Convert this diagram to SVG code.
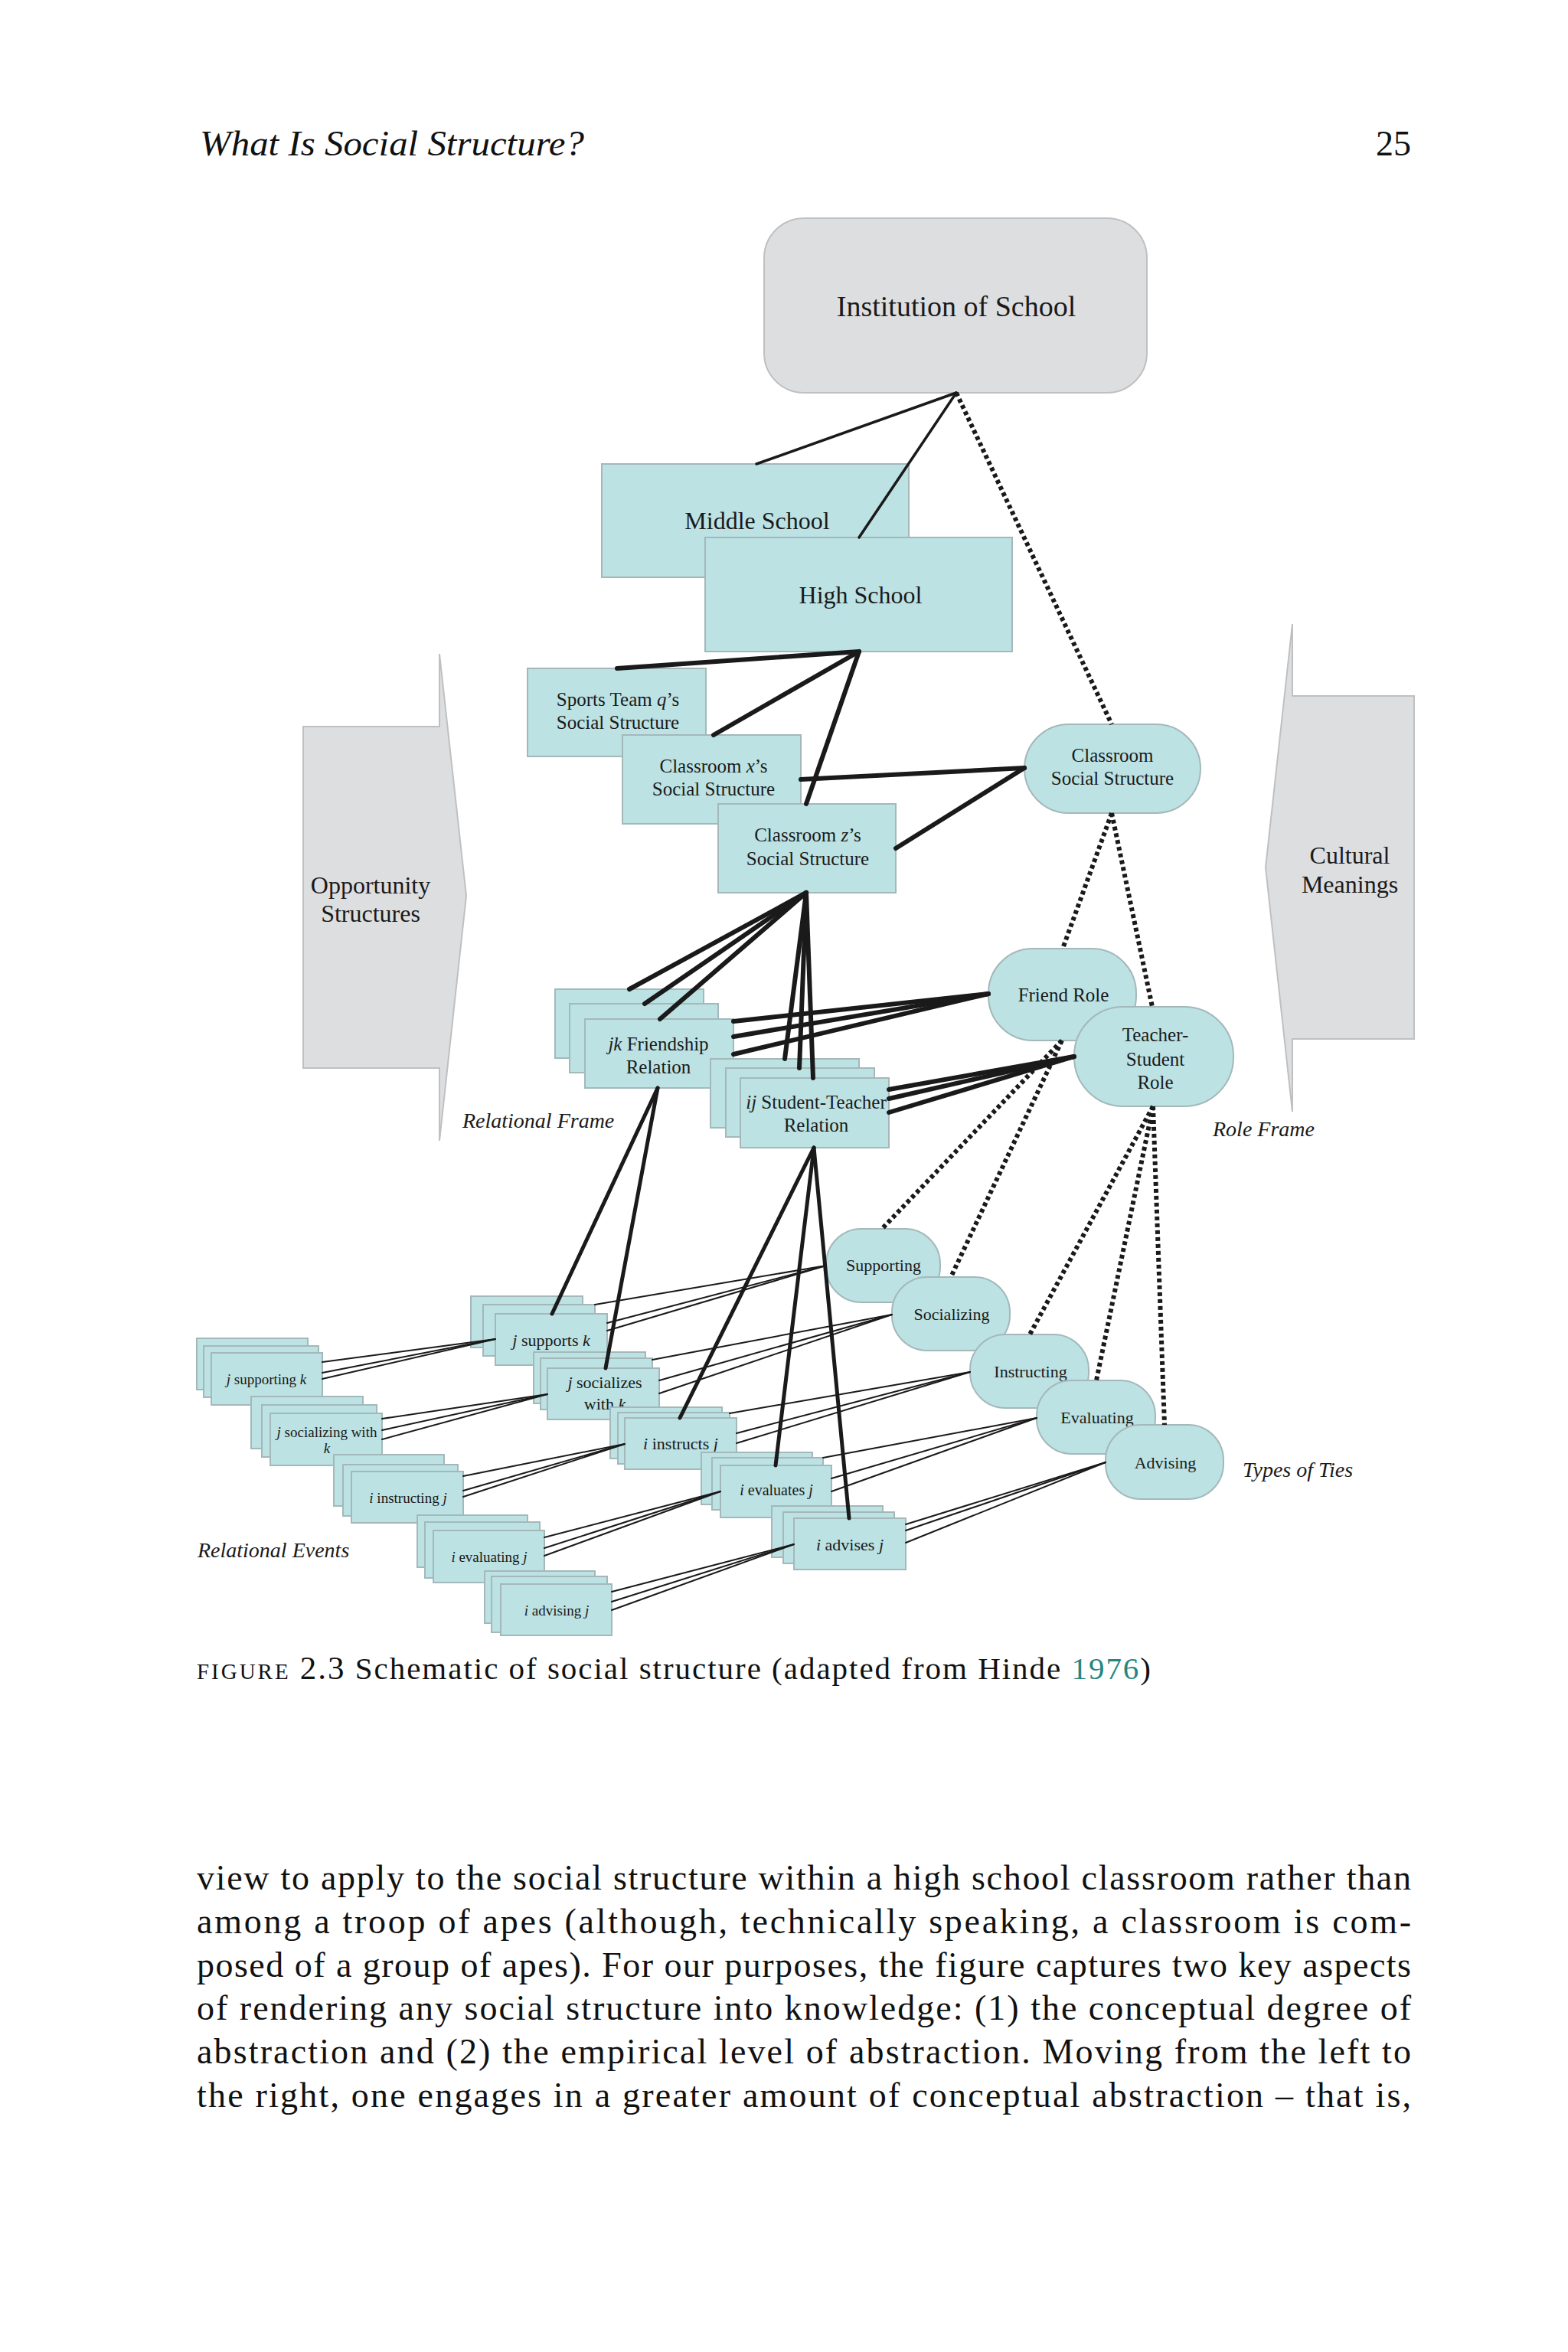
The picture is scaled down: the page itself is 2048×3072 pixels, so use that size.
<svg xmlns="http://www.w3.org/2000/svg" width="2048" height="3072" viewBox="0 0 2048 3072">
<style>
.bg{fill:#ffffff}
.box{fill:#bce2e4;stroke:#a4b8ba;stroke-width:2}
.gray{fill:#dddee0;stroke:#bfc0c2;stroke-width:2}
.t{font-family:"Liberation Serif","Times New Roman",serif;fill:#1a1a1a;text-anchor:middle}
.it{font-style:italic}
.lab{font-family:"Liberation Serif","Times New Roman",serif;fill:#1a1a1a;font-style:italic;font-size:28px}
.body{font-family:"Liberation Serif","Times New Roman",serif;fill:#111;font-size:46px}
.c{stroke:#1a1a1a;fill:none;stroke-linecap:round}
.w6{stroke-width:6}
.w5{stroke-width:5}
.w35{stroke-width:3.5}
.w2{stroke-width:2}
.dot{stroke:#1a1a1a;fill:none;stroke-width:6;stroke-dasharray:5 4}
</style>
<rect class="bg" x="0" y="0" width="2048" height="3072"/>

<!-- page header -->
<text x="261" y="203" font-family="Liberation Serif, serif" font-style="italic" font-size="46" fill="#111" textLength="502" lengthAdjust="spacingAndGlyphs">What Is Social Structure?</text>
<text x="1843" y="203" font-family="Liberation Serif, serif" font-size="46" fill="#111" text-anchor="end">25</text>

<!-- side arrows -->
<g id="opportunity">
<polygon class="gray" points="396,949 574,949 574,854 609,1170 574,1490 574,1395 396,1395"/>
<text class="t" x="484" y="1167" font-size="32">Opportunity</text>
<text class="t" x="484" y="1204" font-size="32">Structures</text>
</g>
<g id="cultural">
<polygon class="gray" points="1847,909 1688,909 1688,815 1653,1133 1688,1452 1688,1357 1847,1357"/>
<text class="t" x="1763" y="1128" font-size="32">Cultural</text>
<text class="t" x="1763" y="1166" font-size="32">Meanings</text>
</g>

<!-- nodes -->
<g id="institution">
<rect class="gray" x="998" y="285" width="500" height="228" rx="52"/>
<text class="t" x="1249" y="413" font-size="38">Institution of School</text>
</g>
<g id="middle-school">
<rect class="box" x="786" y="606" width="401" height="148"/>
<text class="t" x="989" y="691" font-size="32">Middle School</text>
</g>
<g id="high-school">
<rect class="box" x="921" y="702" width="401" height="149"/>
<text class="t" x="1124" y="788" font-size="32">High School</text>
</g>
<g id="sports-team">
<rect class="box" x="689" y="873" width="233" height="115"/>
<text class="t" x="807" y="922" font-size="25">Sports Team <tspan class="it">q</tspan>’s</text>
<text class="t" x="807" y="952" font-size="25">Social Structure</text>
</g>
<g id="classroom-x">
<rect class="box" x="813" y="960" width="233" height="116"/>
<text class="t" x="932" y="1009" font-size="25">Classroom <tspan class="it">x</tspan>’s</text>
<text class="t" x="932" y="1039" font-size="25">Social Structure</text>
</g>
<g id="classroom-z">
<rect class="box" x="938" y="1050" width="232" height="116"/>
<text class="t" x="1055" y="1099" font-size="25">Classroom <tspan class="it">z</tspan>’s</text>
<text class="t" x="1055" y="1130" font-size="25">Social Structure</text>
</g>
<g id="classroom-social-structure">
<rect class="box" x="1338" y="946" width="230" height="116" rx="58"/>
<text class="t" x="1453" y="995" font-size="25">Classroom</text>
<text class="t" x="1453" y="1025" font-size="25">Social Structure</text>
</g>
<g id="jk-friendship">
<rect class="box" x="725" y="1292" width="194" height="90"/>
<rect class="box" x="744" y="1311" width="194" height="90"/>
<rect class="box" x="764" y="1331" width="194" height="90"/>
<text class="t" x="860" y="1372" font-size="25"><tspan class="it">jk</tspan> Friendship</text>
<text class="t" x="860" y="1402" font-size="25">Relation</text>
</g>
<g id="ij-student-teacher">
<rect class="box" x="928" y="1383" width="194" height="90"/>
<rect class="box" x="948" y="1395" width="194" height="90"/>
<rect class="box" x="967" y="1408" width="194" height="91"/>
<text class="t" x="1066" y="1448" font-size="25"><tspan class="it">ij</tspan> Student-Teacher</text>
<text class="t" x="1066" y="1478" font-size="25">Relation</text>
</g>
<g id="friend-role">
<rect class="box" x="1291" y="1239" width="193" height="120" rx="58"/>
<text class="t" x="1389" y="1308" font-size="25">Friend Role</text>
</g>
<g id="teacher-student-role">
<rect class="box" x="1403" y="1315" width="208" height="130" rx="64"/>
<text class="t" x="1509" y="1360" font-size="25">Teacher-</text>
<text class="t" x="1509" y="1392" font-size="25">Student</text>
<text class="t" x="1509" y="1422" font-size="25">Role</text>
</g>
<g id="supporting">
<rect class="box" x="1079" y="1605" width="149" height="96" rx="46"/>
<text class="t" x="1154" y="1660" font-size="22">Supporting</text>
</g>
<g id="socializing">
<rect class="box" x="1165" y="1668" width="154" height="96" rx="46"/>
<text class="t" x="1243" y="1724" font-size="22">Socializing</text>
</g>
<g id="instructing">
<rect class="box" x="1267" y="1743" width="155" height="96" rx="46"/>
<text class="t" x="1346" y="1799" font-size="22">Instructing</text>
</g>
<g id="evaluating">
<rect class="box" x="1354" y="1803" width="155" height="96" rx="46"/>
<text class="t" x="1433" y="1859" font-size="22">Evaluating</text>
</g>
<g id="advising">
<rect class="box" x="1444" y="1861" width="154" height="97" rx="46"/>
<text class="t" x="1522" y="1918" font-size="22">Advising</text>
</g>

<!-- relational events: middle column -->
<g id="j-supports-k">
<rect class="box" x="615" y="1693" width="146" height="67"/>
<rect class="box" x="631" y="1704" width="146" height="67"/>
<rect class="box" x="647" y="1716" width="146" height="67"/>
<text class="t" x="720" y="1758" font-size="22"><tspan class="it">j</tspan> supports <tspan class="it">k</tspan></text>
</g>
<g id="j-socializes-with-k">
<rect class="box" x="697" y="1766" width="146" height="67"/>
<rect class="box" x="706" y="1774" width="146" height="67"/>
<rect class="box" x="715" y="1787" width="146" height="67"/>
<text class="t" x="790" y="1813" font-size="22"><tspan class="it">j</tspan> socializes</text>
<text class="t" x="790" y="1841" font-size="22">with <tspan class="it">k</tspan></text>
</g>
<g id="i-instructs-j">
<rect class="box" x="797" y="1838" width="146" height="67"/>
<rect class="box" x="807" y="1845" width="146" height="67"/>
<rect class="box" x="816" y="1852" width="146" height="67"/>
<text class="t" x="889" y="1893" font-size="22"><tspan class="it">i</tspan> instructs <tspan class="it">j</tspan></text>
</g>
<g id="i-evaluates-j">
<rect class="box" x="916" y="1897" width="145" height="68"/>
<rect class="box" x="930" y="1904" width="145" height="68"/>
<rect class="box" x="941" y="1914" width="145" height="68"/>
<text class="t" x="1014" y="1953" font-size="20"><tspan class="it">i</tspan> evaluates <tspan class="it">j</tspan></text>
</g>
<g id="i-advises-j">
<rect class="box" x="1008" y="1967" width="145" height="67"/>
<rect class="box" x="1023" y="1975" width="145" height="67"/>
<rect class="box" x="1037" y="1983" width="146" height="67"/>
<text class="t" x="1110" y="2025" font-size="22"><tspan class="it">i</tspan> advises <tspan class="it">j</tspan></text>
</g>

<!-- relational events: left column -->
<g id="j-supporting-k">
<rect class="box" x="257" y="1748" width="145" height="67"/>
<rect class="box" x="266" y="1758" width="150" height="67"/>
<rect class="box" x="276" y="1767" width="145" height="68"/>
<text class="t" x="348" y="1808" font-size="19"><tspan class="it">j</tspan> supporting <tspan class="it">k</tspan></text>
</g>
<g id="j-socializing-with-k">
<rect class="box" x="328" y="1824" width="146" height="68"/>
<rect class="box" x="342" y="1835" width="150" height="68"/>
<rect class="box" x="353" y="1846" width="146" height="68"/>
<text class="t" x="427" y="1877" font-size="19"><tspan class="it">j</tspan> socializing with</text>
<text class="t" x="427" y="1898" font-size="19" font-style="italic">k</text>
</g>
<g id="i-instructing-j">
<rect class="box" x="436" y="1900" width="144" height="67"/>
<rect class="box" x="448" y="1913" width="150" height="67"/>
<rect class="box" x="459" y="1922" width="146" height="67"/>
<text class="t" x="533" y="1963" font-size="19"><tspan class="it">i</tspan> instructing <tspan class="it">j</tspan></text>
</g>
<g id="i-evaluating-j">
<rect class="box" x="545" y="1979" width="144" height="68"/>
<rect class="box" x="555" y="1988" width="150" height="73"/>
<rect class="box" x="566" y="1999" width="145" height="68"/>
<text class="t" x="639" y="2040" font-size="19"><tspan class="it">i</tspan> evaluating <tspan class="it">j</tspan></text>
</g>
<g id="i-advising-j">
<rect class="box" x="633" y="2052" width="144" height="68"/>
<rect class="box" x="642" y="2059" width="151" height="73"/>
<rect class="box" x="654" y="2069" width="145" height="67"/>
<text class="t" x="727" y="2110" font-size="19"><tspan class="it">i</tspan> advising <tspan class="it">j</tspan></text>
</g>

<!-- connectors -->
<g id="connectors">
<line class="c w35" x1="1249" y1="513" x2="988" y2="606"/>
<line class="c w35" x1="1249" y1="513" x2="1122" y2="702"/>
<line class="dot" x1="1249" y1="513" x2="1452" y2="946"/>
<line class="c w6" x1="1122" y1="851" x2="806" y2="873"/>
<line class="c w6" x1="1122" y1="851" x2="932" y2="960"/>
<line class="c w6" x1="1122" y1="851" x2="1053" y2="1050"/>
<line class="c w6" x1="1046" y1="1018" x2="1338" y2="1003"/>
<line class="c w6" x1="1170" y1="1108" x2="1338" y2="1003"/>
<line class="c w6" x1="1053" y1="1166" x2="822" y2="1292"/>
<line class="c w6" x1="1053" y1="1166" x2="842" y2="1311"/>
<line class="c w6" x1="1053" y1="1166" x2="862" y2="1331"/>
<line class="c w6" x1="1053" y1="1166" x2="1025" y2="1383"/>
<line class="c w6" x1="1053" y1="1166" x2="1044" y2="1395"/>
<line class="c w6" x1="1053" y1="1166" x2="1062" y2="1408"/>
<line class="c w6" x1="958" y1="1334" x2="1291" y2="1298"/>
<line class="c w6" x1="958" y1="1354" x2="1291" y2="1298"/>
<line class="c w6" x1="958" y1="1377" x2="1291" y2="1298"/>
<line class="c w6" x1="1161" y1="1423" x2="1403" y2="1380"/>
<line class="c w6" x1="1161" y1="1435" x2="1403" y2="1380"/>
<line class="c w6" x1="1161" y1="1453" x2="1403" y2="1380"/>
<line class="dot" x1="1452" y1="1062" x2="1388" y2="1239"/>
<line class="dot" x1="1452" y1="1062" x2="1505" y2="1315"/>
<line class="dot" x1="1387" y1="1359" x2="1152" y2="1605"/>
<line class="dot" x1="1387" y1="1359" x2="1242" y2="1668"/>
<line class="dot" x1="1506" y1="1445" x2="1345" y2="1743"/>
<line class="dot" x1="1506" y1="1445" x2="1432" y2="1803"/>
<line class="dot" x1="1506" y1="1445" x2="1521" y2="1861"/>
<line class="c w5" x1="859" y1="1421" x2="721" y2="1716"/>
<line class="c w5" x1="859" y1="1421" x2="791" y2="1787"/>
<line class="c w5" x1="1063" y1="1499" x2="888" y2="1852"/>
<line class="c w5" x1="1063" y1="1499" x2="1013" y2="1914"/>
<line class="c w5" x1="1063" y1="1499" x2="1109" y2="1983"/>
<line class="c w2" x1="777" y1="1704" x2="1079" y2="1653"/>
<line class="c w2" x1="793" y1="1728" x2="1079" y2="1653"/>
<line class="c w2" x1="793" y1="1738" x2="1079" y2="1653"/>
<line class="c w2" x1="852" y1="1776" x2="1165" y2="1717"/>
<line class="c w2" x1="861" y1="1803" x2="1165" y2="1717"/>
<line class="c w2" x1="861" y1="1820" x2="1165" y2="1717"/>
<line class="c w2" x1="953" y1="1846" x2="1267" y2="1792"/>
<line class="c w2" x1="962" y1="1872" x2="1267" y2="1792"/>
<line class="c w2" x1="962" y1="1885" x2="1267" y2="1792"/>
<line class="c w2" x1="1075" y1="1904" x2="1354" y2="1852"/>
<line class="c w2" x1="1086" y1="1931" x2="1354" y2="1852"/>
<line class="c w2" x1="1086" y1="1948" x2="1354" y2="1852"/>
<line class="c w2" x1="1183" y1="1991" x2="1444" y2="1910"/>
<line class="c w2" x1="1183" y1="1999" x2="1444" y2="1910"/>
<line class="c w2" x1="1183" y1="2015" x2="1444" y2="1910"/>
<line class="c w2" x1="421" y1="1779" x2="647" y2="1749"/>
<line class="c w2" x1="421" y1="1793" x2="647" y2="1749"/>
<line class="c w2" x1="421" y1="1801" x2="647" y2="1749"/>
<line class="c w2" x1="499" y1="1853" x2="715" y2="1821"/>
<line class="c w2" x1="499" y1="1868" x2="715" y2="1821"/>
<line class="c w2" x1="499" y1="1880" x2="715" y2="1821"/>
<line class="c w2" x1="605" y1="1928" x2="816" y2="1886"/>
<line class="c w2" x1="605" y1="1947" x2="816" y2="1886"/>
<line class="c w2" x1="605" y1="1955" x2="816" y2="1886"/>
<line class="c w2" x1="711" y1="2008" x2="941" y2="1948"/>
<line class="c w2" x1="711" y1="2022" x2="941" y2="1948"/>
<line class="c w2" x1="711" y1="2032" x2="941" y2="1948"/>
<line class="c w2" x1="799" y1="2079" x2="1037" y2="2017"/>
<line class="c w2" x1="799" y1="2092" x2="1037" y2="2017"/>
<line class="c w2" x1="799" y1="2103" x2="1037" y2="2017"/>
</g>

<!-- frame labels -->
<text class="lab" x="604" y="1473">Relational Frame</text>
<text class="lab" x="1584" y="1484">Role Frame</text>
<text class="lab" x="1623" y="1929">Types of Ties</text>
<text class="lab" x="258" y="2034">Relational Events</text>

<!-- caption -->
<text x="257" y="2193" font-family="Liberation Serif, serif" fill="#111" font-size="41" textLength="1246" lengthAdjust="spacing"><tspan font-size="29" letter-spacing="1">FIGURE</tspan> <tspan font-size="43">2.3</tspan>  Schematic of social structure (adapted from Hinde <tspan fill="#23877f">1976</tspan>)</text>

<!-- body text -->
<text class="body" x="257" y="2468" textLength="1586" lengthAdjust="spacing">view to apply to the social structure within a high school classroom rather than</text>
<text class="body" x="257" y="2525" textLength="1586" lengthAdjust="spacing">among a troop of apes (although, technically speaking, a classroom is com-</text>
<text class="body" x="257" y="2582" textLength="1586" lengthAdjust="spacing">posed of a group of apes). For our purposes, the figure captures two key aspects</text>
<text class="body" x="257" y="2638" textLength="1586" lengthAdjust="spacing">of rendering any social structure into knowledge: (1) the conceptual degree of</text>
<text class="body" x="257" y="2695" textLength="1586" lengthAdjust="spacing">abstraction and (2) the empirical level of abstraction. Moving from the left to</text>
<text class="body" x="257" y="2752" textLength="1586" lengthAdjust="spacing">the right, one engages in a greater amount of conceptual abstraction – that is,</text>
</svg>
